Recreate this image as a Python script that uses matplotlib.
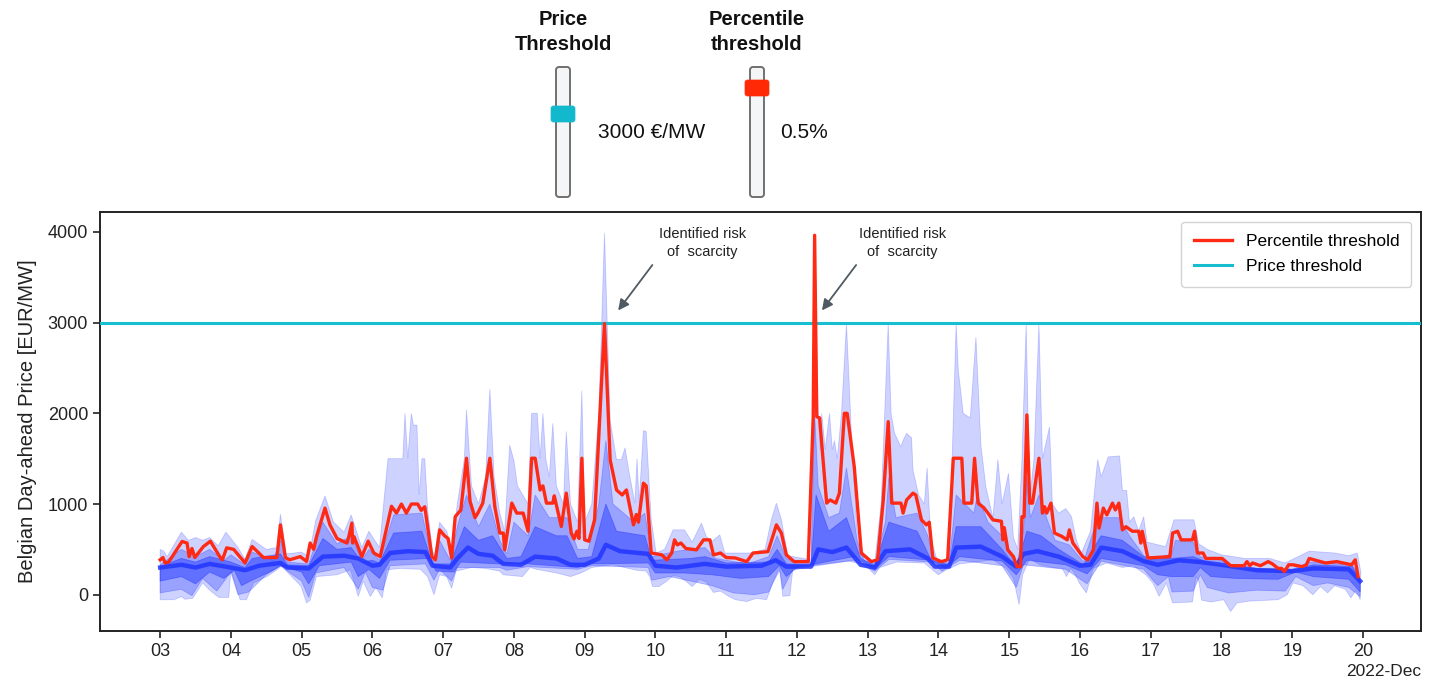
import datetime as dt

import matplotlib
matplotlib.use("Agg")
import matplotlib.pyplot as plt
import matplotlib.dates as mdates
from matplotlib.patches import FancyBboxPatch
import numpy as np

plt.rcParams['font.family'] = ['Liberation Sans', 'DejaVu Sans']

# ---- data : (day of Dec 2022, price EUR/MW) ----
# red line, 99.5 % percentile of the scenarios
pct_line = [
    (3.00, 385), (3.04, 410), (3.07, 350), (3.12, 360), (3.31, 587), (3.38, 570), (3.41, 420),
    (3.45, 510), (3.49, 410), (3.61, 530), (3.71, 590), (3.85, 410), (3.88, 385), (3.94, 517),
    (4.04, 500), (4.20, 350), (4.30, 532), (4.46, 410), (4.65, 410), (4.70, 770), (4.77, 410),
    (4.83, 385), (4.98, 420), (5.07, 367), (5.12, 570), (5.17, 500), (5.21, 640), (5.33, 955),
    (5.40, 770), (5.50, 620), (5.64, 570), (5.66, 620), (5.71, 790), (5.72, 570), (5.74, 640),
    (5.85, 420), (5.94, 590), (6.02, 460), (6.11, 420), (6.27, 975), (6.34, 900), (6.41, 1000),
    (6.48, 900), (6.55, 1000), (6.64, 1000), (6.69, 930), (6.74, 970), (6.84, 420), (6.89, 385),
    (6.95, 715), (7.02, 650), (7.07, 620), (7.12, 405), (7.17, 860), (7.25, 935), (7.33, 1505),
    (7.38, 1030), (7.45, 850), (7.49, 900), (7.56, 1010), (7.66, 1505), (7.73, 970), (7.80, 680),
    (7.85, 680), (7.87, 495), (7.97, 1010), (8.04, 900), (8.13, 900), (8.20, 700), (8.25, 1505),
    (8.30, 1505), (8.37, 1155), (8.41, 1200), (8.46, 1010), (8.55, 1010), (8.57, 1090),
    (8.67, 752), (8.74, 1120), (8.81, 680), (8.85, 615), (8.89, 700), (8.92, 620), (8.96, 1505),
    (9.00, 605), (9.06, 590), (9.14, 826), (9.28, 2990), (9.36, 1486), (9.45, 1155), (9.53, 1100),
    (9.59, 1155), (9.69, 770), (9.73, 885), (9.76, 800), (9.83, 1230), (9.87, 1200), (9.94, 460),
    (10.09, 440), (10.16, 385), (10.23, 460), (10.27, 605), (10.31, 550), (10.36, 570),
    (10.43, 510), (10.58, 495), (10.68, 605), (10.77, 605), (10.82, 440), (10.92, 460),
    (11.00, 410), (11.13, 405), (11.29, 365), (11.38, 460), (11.59, 475), (11.71, 770),
    (11.78, 680), (11.85, 440), (11.96, 365), (12.16, 365), (12.23, 1963), (12.25, 3963),
    (12.28, 1963), (12.32, 1950), (12.42, 1010), (12.47, 1045), (12.55, 1010), (12.60, 1120),
    (12.67, 2000), (12.71, 2000), (12.81, 1412), (12.91, 460), (13.05, 365), (13.14, 385),
    (13.22, 1045), (13.29, 1908), (13.34, 1010), (13.47, 1010), (13.50, 900), (13.55, 1045),
    (13.64, 1120), (13.68, 1100), (13.76, 825), (13.83, 770), (13.87, 800), (13.92, 405),
    (14.04, 365), (14.13, 385), (14.21, 1505), (14.33, 1505), (14.36, 1010), (14.47, 1010),
    (14.51, 1505), (14.56, 1010), (14.64, 960), (14.70, 900), (14.77, 825), (14.89, 810),
    (14.91, 605), (14.93, 740), (14.98, 495), (15.06, 420), (15.11, 310), (15.16, 310),
    (15.18, 860), (15.21, 860), (15.25, 1982), (15.29, 1010), (15.33, 1010), (15.42, 1505),
    (15.47, 900), (15.50, 970), (15.53, 900), (15.59, 1010), (15.64, 680), (15.74, 645),
    (15.82, 605), (15.85, 715), (15.90, 570), (16.04, 420), (16.11, 385), (16.19, 495),
    (16.24, 1010), (16.27, 735), (16.33, 955), (16.38, 880), (16.46, 1010), (16.50, 935),
    (16.55, 1010), (16.60, 715), (16.65, 750), (16.74, 700), (16.83, 700), (16.86, 570),
    (16.88, 700), (16.96, 405), (17.27, 420), (17.31, 680), (17.38, 700), (17.43, 605),
    (17.59, 605), (17.62, 700), (17.66, 460), (17.74, 460), (17.78, 400), (18.01, 400),
    (18.13, 320), (18.32, 320), (18.36, 365), (18.40, 320), (18.44, 350), (18.55, 320),
    (18.66, 365), (18.72, 340), (18.80, 290), (18.85, 290), (18.89, 255), (18.95, 330),
    (19.01, 330), (19.14, 310), (19.20, 330), (19.24, 400), (19.47, 350), (19.63, 365),
    (19.84, 330), (19.89, 385), (19.93, 200),
]

# outer envelope of the scenarios (max / min)
env_top = [
    (3.00, 500), (3.05, 480), (3.10, 420), (3.30, 690), (3.40, 600), (3.50, 630), (3.60, 600),
    (3.70, 630), (3.82, 540), (3.93, 690), (4.10, 520), (4.20, 390), (4.30, 610), (4.50, 500),
    (4.65, 520), (4.70, 890), (4.78, 450), (5.00, 470), (5.10, 420), (5.20, 820), (5.33, 1090),
    (5.45, 800), (5.60, 690), (5.70, 880), (5.85, 520), (5.95, 700), (6.10, 520), (6.22, 1500),
    (6.43, 1500), (6.46, 2000), (6.50, 1500), (6.55, 2000), (6.58, 1870), (6.63, 1870),
    (6.66, 1100), (6.70, 1500), (6.74, 1500), (6.78, 950), (6.85, 480), (6.88, 430), (6.95, 800),
    (7.05, 700), (7.12, 500), (7.20, 1000), (7.30, 1500), (7.33, 2040), (7.40, 1200),
    (7.50, 1000), (7.60, 1300), (7.66, 2270), (7.72, 1300), (7.80, 900), (7.87, 700),
    (7.94, 1650), (8.00, 1480), (8.05, 1200), (8.20, 1000), (8.25, 2000), (8.33, 2000),
    (8.37, 1500), (8.41, 2000), (8.45, 1500), (8.50, 1300), (8.55, 1890), (8.60, 1200),
    (8.70, 1000), (8.74, 1800), (8.80, 1000), (8.90, 800), (8.96, 2250), (9.00, 800),
    (9.10, 1000), (9.20, 2000), (9.28, 3990), (9.36, 1920), (9.45, 1490), (9.52, 1490),
    (9.57, 1620), (9.63, 1340), (9.71, 1010), (9.74, 1500), (9.77, 1010), (9.83, 1810),
    (9.87, 1800), (9.94, 830), (10.01, 460), (10.13, 500), (10.25, 715), (10.41, 715),
    (10.52, 580), (10.65, 790), (10.72, 640), (10.80, 590), (10.91, 660), (10.98, 460),
    (11.33, 460), (11.55, 500), (11.64, 830), (11.71, 1010), (11.78, 830), (11.87, 430),
    (12.20, 385), (12.25, 3970), (12.30, 2000), (12.33, 1600), (12.35, 2000), (12.40, 1600),
    (12.46, 2000), (12.50, 1600), (12.53, 1700), (12.57, 1500), (12.63, 2000), (12.70, 2990),
    (12.73, 2480), (12.78, 1600), (12.85, 715), (12.94, 450), (13.10, 360), (13.19, 1000),
    (13.29, 2990), (13.33, 2000), (13.38, 1780), (13.47, 1630), (13.50, 1700), (13.55, 1780),
    (13.62, 1730), (13.64, 1375), (13.72, 1100), (13.80, 1000), (13.84, 1400), (13.89, 630),
    (13.98, 380), (14.15, 350), (14.25, 2990), (14.28, 2480), (14.35, 2000), (14.45, 1950),
    (14.53, 2840), (14.60, 1650), (14.67, 1190), (14.77, 850), (14.84, 1490), (14.90, 1000),
    (14.99, 1340), (15.06, 630), (15.12, 500), (15.18, 1490), (15.24, 2990), (15.29, 1050),
    (15.35, 1500), (15.42, 2990), (15.47, 1500), (15.57, 1850), (15.61, 1000), (15.70, 900),
    (15.80, 950), (15.88, 860), (15.95, 600), (16.02, 460), (16.15, 700), (16.25, 1490),
    (16.30, 1300), (16.40, 1520), (16.56, 1530), (16.60, 1150), (16.66, 1150), (16.70, 800),
    (16.76, 860), (16.83, 700), (16.90, 860), (16.95, 580), (17.21, 530), (17.33, 826),
    (17.61, 826), (17.68, 560), (17.80, 500), (17.90, 470), (18.00, 440), (18.33, 400),
    (18.68, 400), (18.90, 350), (19.24, 480), (19.60, 460), (19.80, 430), (19.92, 460),
    (19.97, 250),
]
env_bot = [
    (3.00, -55), (3.20, -55), (3.30, -20), (3.35, -50), (3.46, -40), (3.60, 130), (3.70, 50),
    (3.83, -30), (3.97, -30), (4.00, 275), (4.05, 150), (4.13, -55), (4.22, -55), (4.32, 130),
    (4.51, 200), (4.65, 275), (4.72, 320), (4.81, 240), (4.99, 95), (5.07, -90), (5.12, -60),
    (5.21, 200), (5.50, 220), (5.69, 275), (5.80, -20), (5.87, 150), (5.97, -20), (6.05, 80),
    (6.14, -35), (6.20, 275), (6.40, 290), (6.68, 280), (6.78, 200), (6.87, 0), (6.95, 220),
    (7.05, 200), (7.12, 70), (7.18, 260), (7.40, 300), (7.60, 290), (7.80, 260), (7.85, 220),
    (8.12, 200), (8.23, 300), (8.32, 280), (8.60, 240), (8.80, 200), (8.95, 240), (9.10, 300),
    (9.40, 330), (9.73, 270), (9.87, 260), (9.92, 200), (9.96, 90), (10.05, 90), (10.16, 150),
    (10.25, 210), (10.34, 200), (10.43, 150), (10.52, 90), (10.62, 170), (10.72, 140),
    (10.82, 25), (10.92, 40), (11.04, -20), (11.13, -55), (11.29, -75), (11.43, -40),
    (11.57, -55), (11.66, 130), (11.76, 270), (11.80, -18), (11.90, -10), (11.94, 270),
    (12.20, 310), (12.73, 370), (12.96, 330), (13.10, 220), (13.17, 300), (13.41, 360),
    (13.80, 350), (14.00, 220), (14.10, 270), (14.30, 340), (14.77, 385), (14.96, 290),
    (15.06, 180), (15.14, -110), (15.19, 220), (15.29, 400), (15.43, 330), (15.62, 300),
    (15.75, 290), (15.81, 200), (15.87, 290), (15.93, 230), (15.99, 130), (16.09, 20),
    (16.19, 290), (16.38, 350), (16.60, 300), (16.75, 320), (16.93, 220), (17.03, 130),
    (17.12, -18), (17.22, 130), (17.31, -90), (17.59, -80), (17.64, 200), (17.68, 150),
    (17.72, -60), (17.85, -80), (18.03, -55), (18.13, -185), (18.22, -90), (18.40, -70),
    (18.80, -55), (18.93, 0), (19.01, 130), (19.15, 100), (19.29, 0), (19.40, 90), (19.50, 20),
    (19.60, 100), (19.75, 60), (19.83, -35), (19.90, 50), (19.96, -55),
]

# intermediate percentile bands
p97_top = [
    (3.0, 330), (3.3, 500), (3.5, 420), (3.7, 500), (3.9, 380), (4.0, 440), (4.2, 330),
    (4.3, 470), (4.6, 380), (4.7, 600), (4.8, 360), (5.1, 340), (5.3, 800), (5.5, 560),
    (5.7, 650), (5.85, 380), (5.95, 500), (6.1, 380), (6.3, 880), (6.7, 900), (6.85, 360),
    (6.95, 600), (7.1, 380), (7.2, 750), (7.33, 1100), (7.5, 750), (7.66, 1000), (7.8, 600),
    (7.9, 450), (8.0, 800), (8.2, 650), (8.3, 1100), (8.5, 850), (8.75, 850), (8.9, 500),
    (9.05, 500), (9.2, 1000), (9.3, 1700), (9.4, 1000), (9.7, 800), (9.85, 900), (9.95, 420),
    (10.3, 480), (10.7, 520), (10.85, 400), (11.3, 340), (11.6, 420), (11.72, 650),
    (11.85, 400), (12.2, 340), (12.25, 2000), (12.3, 1200), (12.45, 850), (12.6, 900),
    (12.7, 1400), (12.85, 600), (12.95, 380), (13.1, 340), (13.25, 800), (13.3, 1300),
    (13.4, 850), (13.7, 900), (13.85, 650), (13.95, 360), (14.15, 350), (14.25, 1100),
    (14.5, 900), (14.55, 1100), (14.7, 800), (14.9, 650), (15.1, 300), (15.2, 700),
    (15.25, 1300), (15.3, 850), (15.42, 1100), (15.55, 800), (15.65, 600), (15.85, 550),
    (16.05, 360), (16.25, 850), (16.55, 850), (16.7, 650), (16.95, 380), (17.3, 450),
    (17.35, 600), (17.6, 580), (17.7, 420), (18.0, 380), (18.2, 300), (19.0, 280),
    (19.25, 360), (19.85, 330), (19.96, 170),
]
p10_bot = [
    (3.0, 20), (3.3, 60), (3.45, -10), (3.6, 180), (3.8, 40), (4.0, 250), (4.1, 0), (4.25, 30),
    (4.5, 220), (4.7, 320), (4.8, 260), (5.0, 150), (5.1, -30), (5.2, 240), (5.6, 300),
    (5.8, 60), (5.9, 250), (6.0, 80), (6.15, 50), (6.25, 320), (6.75, 340), (6.87, 160),
    (6.95, 280), (7.12, 150), (7.2, 300), (7.8, 300), (7.9, 270), (8.2, 310), (8.9, 280),
    (9.1, 320), (9.9, 300), (9.95, 160), (10.2, 200), (10.5, 150), (10.8, 100), (11.1, 20),
    (11.4, 0), (11.6, 30), (11.75, 290), (11.8, 60), (11.95, 290), (12.2, 320), (12.8, 380),
    (13.1, 260), (13.3, 390), (13.9, 360), (14.05, 260), (14.3, 380), (14.9, 320), (15.1, 80),
    (15.2, 330), (15.8, 280), (16.1, 120), (16.3, 370), (16.9, 280), (17.1, 100), (17.25, 200),
    (17.3, 30), (17.6, 40), (17.7, 220), (17.8, 80), (18.1, 20), (18.5, 50), (18.9, 40),
    (19.05, 200), (19.3, 100), (19.5, 130), (19.8, 80), (19.96, -20),
]
p85_top = [
    (3.0, 310), (3.3, 400), (3.5, 360), (3.7, 420), (4.0, 360), (4.2, 300), (4.3, 400),
    (4.7, 450), (4.8, 330), (5.1, 320), (5.3, 620), (5.5, 500), (5.7, 520), (5.85, 360),
    (6.0, 380), (6.1, 350), (6.3, 680), (6.7, 700), (6.85, 340), (7.1, 340), (7.3, 750),
    (7.5, 600), (7.7, 650), (7.9, 400), (8.1, 420), (8.3, 750), (8.6, 650), (8.75, 650),
    (8.9, 400), (9.1, 420), (9.3, 1000), (9.45, 700), (9.85, 650), (9.95, 380), (10.5, 400),
    (10.7, 420), (11.0, 350), (11.6, 360), (11.72, 500), (11.85, 340), (12.2, 330),
    (12.27, 1100), (12.45, 700), (12.7, 850), (12.9, 400), (13.1, 320), (13.3, 800),
    (13.7, 700), (13.9, 380), (14.15, 330), (14.25, 750), (14.6, 750), (14.9, 500), (15.1, 300),
    (15.25, 700), (15.45, 650), (15.7, 500), (16.05, 330), (16.3, 650), (16.6, 600),
    (16.9, 420), (17.3, 400), (17.6, 420), (17.8, 360), (18.2, 290), (19.0, 270), (19.3, 330),
    (19.85, 310), (19.96, 160),
]
p25_bot = [
    (3.0, 150), (3.3, 200), (3.5, 120), (3.7, 250), (3.9, 180), (4.05, 270), (4.15, 100),
    (4.3, 160), (4.6, 270), (4.7, 320), (5.0, 250), (5.1, 120), (5.25, 320), (5.7, 360),
    (5.8, 200), (5.95, 280), (6.1, 180), (6.25, 380), (6.8, 400), (6.9, 260), (7.15, 250),
    (7.25, 360), (7.8, 340), (8.2, 340), (8.9, 300), (9.1, 340), (9.9, 350), (10.0, 240),
    (10.4, 240), (10.8, 220), (11.2, 180), (11.6, 200), (11.75, 320), (11.85, 200), (12.0, 300),
    (12.2, 330), (12.8, 420), (13.1, 280), (13.3, 420), (13.9, 380), (14.1, 290), (14.3, 420),
    (14.9, 370), (15.1, 220), (15.25, 380), (15.8, 330), (16.1, 230), (16.3, 400), (16.9, 320),
    (17.1, 220), (17.3, 200), (17.6, 200), (17.7, 300), (17.85, 200), (18.2, 180), (18.8, 170),
    (19.05, 250), (19.3, 200), (19.8, 170), (19.96, 30),
]

# median of the scenarios (dense blue core)
median = [
    (3.0, 300), (3.3, 330), (3.5, 300), (3.7, 340), (4.0, 300), (4.2, 270), (4.4, 320),
    (4.7, 350), (4.8, 300), (5.1, 290), (5.3, 420), (5.6, 430), (5.8, 400), (6.0, 320),
    (6.1, 330), (6.25, 460), (6.5, 480), (6.75, 470), (6.85, 320), (7.1, 300), (7.2, 400),
    (7.35, 520), (7.5, 450), (7.7, 430), (7.85, 340), (8.1, 330), (8.3, 420), (8.6, 400),
    (8.8, 330), (9.0, 330), (9.2, 400), (9.3, 550), (9.5, 480), (9.9, 450), (10.0, 320),
    (10.3, 300), (10.7, 340), (11.0, 310), (11.5, 320), (11.7, 380), (11.85, 310), (12.2, 310),
    (12.3, 500), (12.5, 470), (12.7, 520), (12.9, 330), (13.1, 300), (13.25, 480), (13.6, 500),
    (13.85, 400), (13.95, 310), (14.15, 310), (14.25, 520), (14.6, 530), (14.9, 420),
    (15.1, 310), (15.2, 450), (15.4, 480), (15.7, 420), (16.0, 320), (16.15, 330), (16.3, 520),
    (16.6, 480), (16.9, 370), (17.1, 330), (17.4, 380), (17.7, 360), (18.0, 330), (18.5, 270),
    (19.0, 260), (19.3, 290), (19.8, 280), (19.96, 150),
]

price_threshold = 3000

# annotations : (arrow tip day, arrow tip value, tail day, tail value, text day, text value)
risk_notes = [(9.45, 3110, 9.98, 3660, 10.66, 3880),
              (12.33, 3110, 12.86, 3660, 13.49, 3880)]

base = mdates.date2num(dt.datetime(2022, 12, 1))


def xy(knots):
    d, v = zip(*knots)
    return base + np.array(d) - 1, np.array(v, dtype=float)


W, H = 1439, 689
fig = plt.figure(figsize=(W / 100, H / 100), dpi=100)

# overlay in pixel coordinates for the slider widgets on top
ov = fig.add_axes([0, 0, 1, 1])
ov.set_xlim(0, W)
ov.set_ylim(H, 0)
ov.axis('off')

ax = fig.add_axes([100 / W, 1 - 631 / H, (1421 - 100) / W, (631 - 212) / H])

band_col = (0.13, 0.2, 1.0)
bands = [(env_top, env_bot, 0.22), (p97_top, p10_bot, 0.3), (p85_top, p25_bot, 0.45)]
for top, bot, a in bands:
    tx, tv = xy(top)
    bx, bv = xy(bot)
    ax.fill(np.r_[tx, bx[::-1]], np.r_[tv, bv[::-1]], color=band_col, alpha=a, lw=0.6,
            edgecolor=(0.13, 0.2, 1.0, 0.15))

mx, mv = xy(median)
ax.plot(mx, mv, color='#2236ff', lw=3.2, alpha=0.85, solid_joinstyle='round')

rx, rv = xy(pct_line)
ax.plot(rx, rv, color='#ff2a14', lw=2.4, label='Percentile threshold', zorder=5)
ax.axhline(price_threshold, color='#17becf', lw=2.2, label='Price threshold', zorder=4)

for tip_d, tip_v, tail_d, tail_v, txt_d, txt_v in risk_notes:
    ax.annotate('', xy=(base + tip_d - 1, tip_v), xytext=(base + tail_d - 1, tail_v),
                arrowprops=dict(arrowstyle='-|>', color='#4f5a62', lw=1.3, mutation_scale=16))
    ax.text(base + txt_d - 1, txt_v, 'Identified risk\nof  scarcity', ha='center', va='center',
            fontsize=10.5, color='#222222', linespacing=1.35)

ax.set_xlim(base + 2.15 - 1, base + 20.82 - 1)
ax.set_ylim(-400, 4220)
ax.set_yticks([0, 1000, 2000, 3000, 4000])
ax.xaxis.set_major_locator(mdates.DayLocator())
ax.xaxis.set_major_formatter(mdates.ConciseDateFormatter(ax.xaxis.get_major_locator()))
ax.tick_params(labelsize=13, length=5, width=1.2, colors='#222222')
ax.xaxis.get_offset_text().set_fontsize(12.5)
for s in ax.spines.values():
    s.set_linewidth(1.4)
    s.set_color('#222222')
ax.set_ylabel('Belgian Day-ahead Price [EUR/MW]', fontsize=14.5, color='#222222', labelpad=8)

ax.legend(loc='upper right', fontsize=12.5, handlelength=2.2, borderpad=0.7,
          labelspacing=0.6, fancybox=True, framealpha=1, edgecolor='#d4d4d4',
          bbox_to_anchor=(1.0, 1.0), borderaxespad=0.55)

# ---- slider widgets above the chart ----
sliders = [(563, 'Price\nThreshold', 114, '#12b8cb', 598, '3000 €/MW'),
           (757, 'Percentile\nthreshold', 88, '#ff2a05', 780, '0.5%')]
for cx, title, handle_y, hcol, value_x, value in sliders:
    ov.text(cx, 32, title, ha='center', va='center', fontsize=14.5, fontweight='bold',
            linespacing=1.45, color='#111111')
    ov.add_patch(FancyBboxPatch((cx - 7, 67), 14, 130, boxstyle='round,pad=0,rounding_size=3',
                                facecolor='#f3f5f7', edgecolor='#707070', lw=1.4))
    ov.add_patch(FancyBboxPatch((cx - 12, handle_y - 8), 24, 16,
                                boxstyle='round,pad=0,rounding_size=2.5',
                                facecolor=hcol, edgecolor=hcol, lw=0.5))
    ov.text(value_x, 133, value, ha='left', va='center', fontsize=15, color='#111111')

fig.savefig('out.png', dpi=100)
